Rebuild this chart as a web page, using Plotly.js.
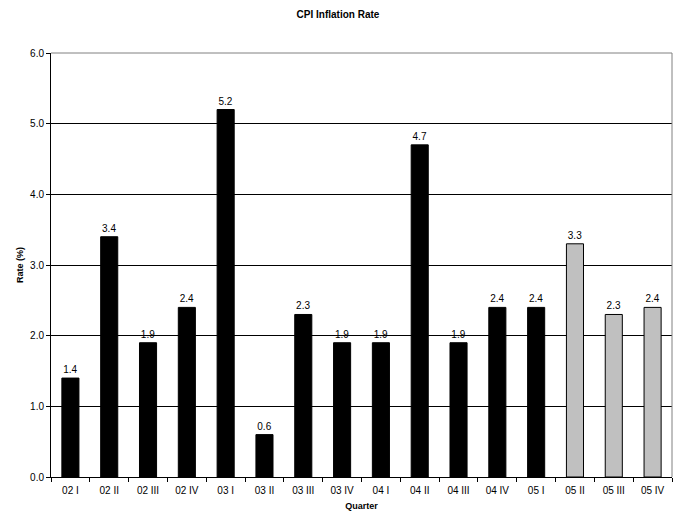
<!DOCTYPE html>
<html>
<head>
<meta charset="utf-8">
<script src="https://cdn.plot.ly/plotly-3.0.1.min.js"></script>
<style>
  html, body { margin: 0; padding: 0; background: #fff; }
  #chart { width: 676px; height: 512px; }
</style>
</head>
<body>
<div id="chart"></div>
<script>
// Quarterly CPI inflation rate, 2002–2005
const quarters = ["02 I", "02 II", "02 III", "02 IV", "03 I", "03 II", "03 III", "03 IV",
                  "04 I", "04 II", "04 III", "04 IV", "05 I", "05 II", "05 III", "05 IV"];
const rates = [1.4, 3.4, 1.9, 2.4, 5.2, 0.6, 2.3, 1.9, 1.9, 4.7, 1.9, 2.4, 2.4, 3.3, 2.3, 2.4];
// The last three quarters are forecasts, drawn in grey
const forecast = [false, false, false, false, false, false, false, false,
                  false, false, false, false, false, true, true, true];

const barColors = forecast.map(f => f ? "#c0c0c0" : "#000000");

const trace = {
  type: "bar",
  x: quarters,
  y: rates,
  marker: { color: barColors, line: { color: "#000", width: 1 } },
  text: rates.map(v => v.toFixed(1)),
  textposition: "outside",
  cliponaxis: false,
  textfont: { family: "Liberation Sans, Arial, sans-serif", size: 10, color: "#000" },
  hoverinfo: "x+y"
};

const layout = {
  width: 676,
  height: 512,
  margin: { l: 51, r: 4, t: 53, b: 35 },
  paper_bgcolor: "#fff",
  plot_bgcolor: "#fff",
  bargap: 0.56,
  showlegend: false,
  font: { family: "Liberation Sans, Arial, sans-serif", size: 10, color: "#000" },
  title: {
    text: "<b>CPI Inflation Rate</b>",
    font: { size: 10, color: "#000" },
    x: 0.5, xanchor: "center",
    y: 0.972, yanchor: "middle"
  },
  xaxis: {
    type: "category",
    tickson: "boundaries",
    ticks: "outside",
    ticklen: 4,
    tickcolor: "#000",
    ticklabelstandoff: 4,
    showline: true,
    linecolor: "#000",
    linewidth: 1,
    showgrid: false,
    mirror: false,
    tickfont: { size: 10, color: "#000" },
    title: { text: "<b>Quarter</b>", font: { size: 9, color: "#000" }, standoff: 7 }
  },
  yaxis: {
    range: [0, 6],
    dtick: 1,
    tickformat: ".1f",
    ticks: "outside",
    ticklen: 4,
    tickcolor: "#000",
    showline: true,
    linecolor: "#000",
    linewidth: 1,
    showgrid: true,
    gridcolor: "#000",
    gridwidth: 1,
    zeroline: false,
    tickfont: { size: 10, color: "#000" },
    title: { text: "<b>Rate (%)</b>", font: { size: 9, color: "#000" }, standoff: 4 }
  },
  shapes: [
    // grey plot-area border on the top and right sides, drawn above the grid
    { type: "line", xref: "paper", yref: "paper", x0: 0, x1: 1, y0: 1, y1: 1,
      layer: "above", line: { color: "#808080", width: 1 } },
    { type: "line", xref: "paper", yref: "paper", x0: 1, x1: 1, y0: 0, y1: 1,
      layer: "above", line: { color: "#808080", width: 1 } }
  ]
};

Plotly.newPlot("chart", [trace], layout, { displayModeBar: false, staticPlot: true });
</script>
</body>
</html>
